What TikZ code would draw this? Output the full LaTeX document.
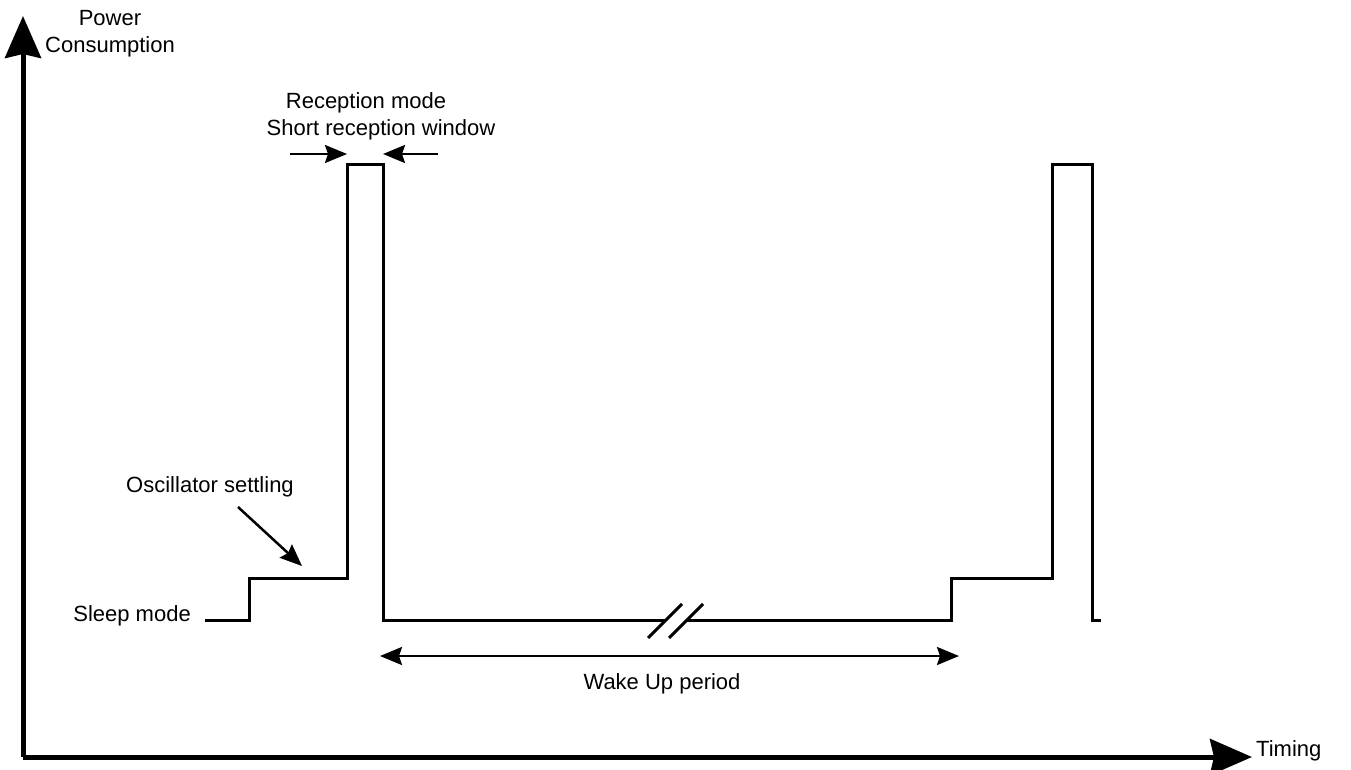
\documentclass[tikz,border=0pt]{standalone}
\usepackage{fontspec}
\setmainfont{Liberation Sans}
\usetikzlibrary{arrows.meta}

\tikzset{
  axis/.style={line width=5pt, -{Stealth[length=42pt,width=36pt,inset=4pt]}},
  signal/.style={line width=3pt, line join=miter},
  pointer/.style={line width=2.5pt, -{Stealth[length=22pt,width=18pt,inset=3pt]}},
  label/.style={font=\fontsize{22}{27}\selectfont, align=center, inner sep=0pt}
}

\begin{document}
\begin{tikzpicture}[x=1pt, y=-1pt]
  \useasboundingbox (0,0) rectangle (1351,770);

  % Define axes
  \coordinate (origin) at (23,757);
  \coordinate (ytip) at (23,16);
  \coordinate (xtip) at (1252,757);

  % Draw axes
  \draw[axis] (origin) -- (ytip);
  \draw[axis] (origin) -- (xtip);
  \node[label] (power) at (110,34) {Power\\Consumption};
  \node[label, anchor=west] (timing) at (1256,751) {Timing};

  % Define waveform corners
  \coordinate (s0) at (205,620);
  \coordinate (s1) at (249,620);
  \coordinate (s2) at (249,578);
  \coordinate (s3) at (347,578);
  \coordinate (s4) at (347,165);
  \coordinate (s5) at (383,165);
  \coordinate (s6) at (383,620);
  \coordinate (b1) at (666,620);
  \coordinate (b2) at (687,620);
  \coordinate (s7) at (951,620);
  \coordinate (s8) at (951,578);
  \coordinate (s9) at (1052,578);
  \coordinate (s10) at (1052,165);
  \coordinate (s11) at (1092,165);
  \coordinate (s12) at (1092,620);
  \coordinate (s13) at (1101,620);

  % Draw waveform with break
  \draw[signal] (s0) -- (s1) -- (s2) -- (s3) -- (s4) -- (s5) -- (s6) -- (b1);
  \draw[signal] (b2) -- (s7) -- (s8) -- (s9) -- (s10) -- (s11) -- (s12) -- (s13);
  \draw[signal] (648,638) -- (682,604);
  \draw[signal] (669,638) -- (703,604);

  % Labels
  \node[label, anchor=east] (sleep) at (191,616) {Sleep mode};
  \node[label] (osc) at (210,487) {Oscillator settling};
  \node[label] (rxmode) at (366,103) {Reception mode};
  \node[label] (rxwin) at (381,130) {Short reception window};
  \node[label] (wake) at (662,684) {Wake Up period};

  % Pointers
  \coordinate (osctail) at (238,507);
  \coordinate (osctip) at (302,566);
  \draw[pointer] (osctail) -- (osctip);

  \coordinate (rxl) at (290,154);
  \coordinate (rxr) at (438,154);
  \draw[pointer] (rxl) -- (s4 |- rxl);
  \draw[pointer] (rxr) -- (s5 |- rxr);

  \coordinate (wl) at (380,656);
  \coordinate (wr) at (959,656);
  \draw[pointer, {Stealth[length=22pt,width=18pt,inset=3pt]}-{Stealth[length=22pt,width=18pt,inset=3pt]}] (wl) -- (wr);
\end{tikzpicture}
\end{document}
